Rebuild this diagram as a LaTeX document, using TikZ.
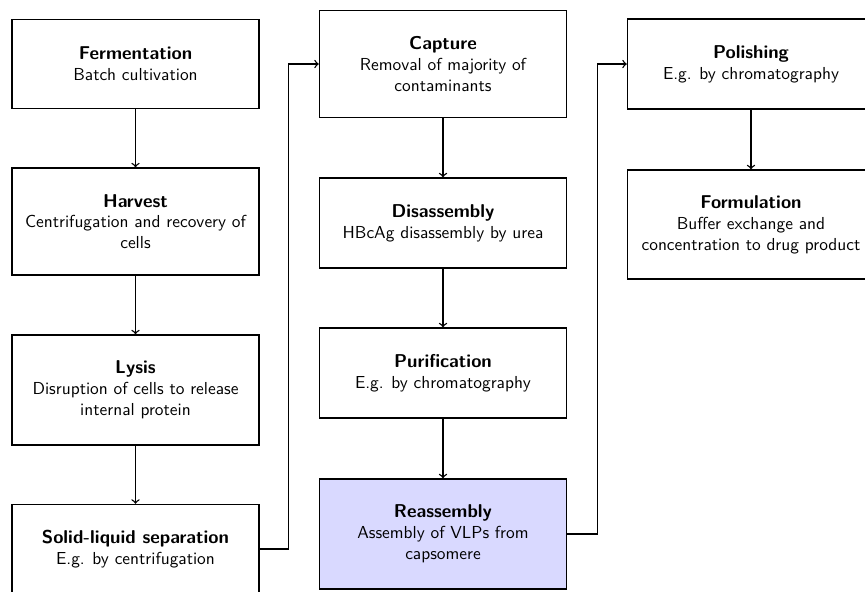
\documentclass[tikz,border=0pt]{standalone}
\usepackage{fontspec}
\definecolor{reasmfill}{RGB}{217,217,255}
\newcommand{\stepttl}[1]{{\fontsize{10.7}{12.5}\selectfont\bfseries #1}}
\begin{document}
\begin{tikzpicture}[x=0.576pt,y=-0.576pt,
  stepbox/.style={draw=black, thick, fill=white, font=\sffamily, align=center,
    minimum width=142.3pt, inner sep=2pt},
  shortbox/.style={stepbox, minimum height=51.3pt},
  tallbox/.style={stepbox, minimum height=62.5pt},
  flow/.style={->, thick}]
\useasboundingbox (0,0) rectangle (865,591);

\node[shortbox] (ferm) at (135.5,64) {\stepttl{Fermentation}\\Batch cultivation};
\node[tallbox, minimum height=61.6pt] (harv) at (135.5,221.5) {\stepttl{Harvest}\\Centrifugation and recovery of\\cells};
\node[tallbox, minimum height=63.4pt] (lysis) at (135.5,390) {\stepttl{Lysis}\\Disruption of cells to release\\internal protein};
\node[shortbox] (solid) at (135.5,549) {\stepttl{Solid-liquid separation}\\E.g. by centrifugation};

\node[tallbox, minimum height=61.6pt] (capt) at (443,64) {\stepttl{Capture}\\Removal of majority of\\contaminants};
\node[shortbox, minimum height=51.8pt] (disa) at (443,223) {\stepttl{Disassembly}\\HBcAg disassembly by urea};
\node[shortbox, minimum height=51.8pt] (puri) at (443,373) {\stepttl{Purification}\\E.g. by chromatography};
\node[tallbox, minimum height=63.4pt, fill=reasmfill] (reas) at (443,534) {\stepttl{Reassembly}\\Assembly of VLPs from\\capsomere};

\node[shortbox, minimum height=51.8pt] (poli) at (751,64) {\stepttl{Polishing}\\E.g. by chromatography};
\node[tallbox, minimum height=62.8pt] (form) at (751,224.5) {\stepttl{Formulation}\\Buffer exchange and\\concentration to drug product};

\draw[flow] (ferm) -- (harv);
\draw[flow] (harv) -- (lysis);
\draw[flow] (lysis) -- (solid);
\draw[flow] (solid.east) -- ++(29,0) |- (capt.west);
\draw[flow] (capt) -- (disa);
\draw[flow] (disa) -- (puri);
\draw[flow] (puri) -- (reas);
\draw[flow] (reas.east) -- ++(30,0) |- (poli.west);
\draw[flow] (poli) -- (form);
\end{tikzpicture}
\end{document}
